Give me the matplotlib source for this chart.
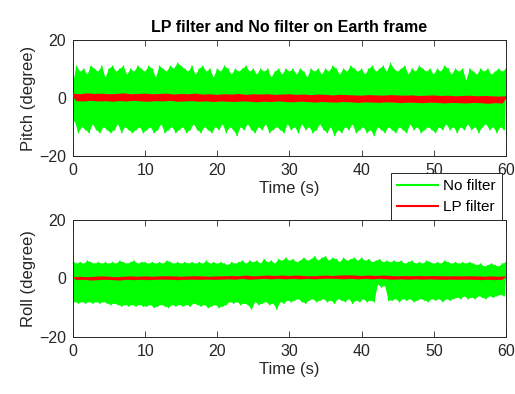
import numpy as np
import matplotlib
matplotlib.use('Agg')
import matplotlib.pyplot as plt

## DATA
# unfiltered signals: upper edge every 0.5 s from 0, lower edge every 0.5 s from 0.25
pitch_raw_hi = [5, 11, 9, 10, 8, 11, 10, 9, 11, 7,
                10, 11, 9, 10, 11, 8, 10, 9, 11, 10,
                9, 11, 10, 7, 11, 10, 9, 11, 10, 12,
                11, 10, 9, 11, 8, 10, 11, 9, 10, 7,
                10, 9, 11, 10, 8, 10, 9, 10, 11, 9,
                10, 8, 10, 9, 10, 7, 9, 10, 8, 10,
                9, 10, 8, 10, 9, 7, 10, 9, 10, 8,
                10, 9, 11, 10, 8, 10, 9, 11, 10, 9,
                10, 8, 10, 11, 9, 10, 11, 9, 12, 10,
                9, 10, 11, 8, 10, 9, 11, 10, 9, 10,
                8, 10, 9, 11, 10, 8, 10, 9, 10, 6,
                10, 9, 8, 10, 9, 10, 8, 9, 10, 9,
                10]
pitch_raw_lo = [-8, -12, -10, -11, -12, -9, -11, -12, -10, -11,
                -12, -11, -9, -12, -10, -11, -12, -11, -10, -12,
                -11, -10, -12, -11, -9, -12, -11, -10, -12, -11,
                -10, -12, -11, -9, -11, -12, -10, -11, -12, -10,
                -11, -9, -12, -10, -11, -13, -10, -11, -9, -11,
                -12, -10, -11, -9, -12, -11, -10, -11, -12, -9,
                -11, -10, -12, -9, -11, -10, -12, -11, -9, -11,
                -12, -10, -13, -11, -12, -10, -11, -9, -12, -11,
                -10, -12, -11, -13, -10, -11, -12, -10, -11, -12,
                -10, -11, -12, -9, -11, -10, -12, -11, -10, -11,
                -12, -10, -11, -9, -11, -10, -12, -10, -11, -9,
                -11, -10, -12, -10, -9, -11, -10, -12, -10, -11]
roll_raw_hi = [6, 5, 5.5, 5, 6, 5.5, 5, 5.5, 5, 5.5,
               5, 5.5, 5, 6, 5.5, 5, 5.5, 6, 5, 5.5,
               5.5, 5, 5.5, 5, 5.5, 5, 6, 5.5, 5, 5.5,
               5, 5.5, 5, 5.5, 5, 5.5, 5, 6, 5, 5.5,
               5, 5.5, 5, 4.5, 5.5, 5, 5.5, 6, 5, 6,
               5.5, 6, 5, 6.5, 5.5, 6, 5, 6.5, 6, 7,
               6, 6.5, 5.5, 6, 7, 6, 6.5, 7.5, 6, 7,
               7.5, 6, 7, 6.5, 5.5, 7, 6, 6.5, 7, 6,
               7, 6, 6.5, 5.5, 6, 6.5, 5.5, 6, 5.5, 6,
               5.5, 6, 5, 5.5, 6, 5, 5.5, 5, 6, 5.5,
               5, 5.5, 5, 6, 5.5, 5, 5.5, 5, 5.5, 5,
               5.5, 5, 4.5, 5, 4, 4.5, 5, 4.5, 4, 5,
               5.5]
roll_raw_lo = [-8, -8.5, -8, -8.5, -8, -8.5, -8, -8.5, -8, -8.5,
               -9, -8.5, -9, -9.5, -9, -9.5, -9, -9.5, -9, -9.5,
               -9.5, -9, -10, -9.5, -9, -9.5, -10, -9, -9.5, -9,
               -9.5, -9, -9.5, -8.5, -9, -9.5, -9, -10, -9.5, -9,
               -10, -9.5, -9, -8, -8.5, -8, -9, -8.5, -9, -10.5,
               -8, -9, -8.5, -8, -9, -8.5, -10.5, -8, -8.5, -7.5,
               -8, -7.5, -7, -8, -8.5, -7.5, -7, -8, -7.5, -7,
               -8, -7.5, -8.5, -7, -7.5, -8, -7, -8.5, -7.5, -8,
               -7, -8, -7.5, -8, -2, -3, -2.5, -7.5, -7.5, -7,
               -8, -7, -7.5, -7, -8, -7.5, -7, -7.5, -8, -7,
               -7.5, -7, -8, -7, -7.5, -7, -6.5, -7, -6, -7,
               -6.5, -7, -6, -6.5, -7, -6, -6.5, -6, -5.5, -6]

# low-pass filtered signals: upper edge on whole seconds, lower edge half a second later
pitch_lp_hi = [1.2, 1.0, 1.3, 1.1, 1.2, 1.0, 1.1, 1.3, 1.0, 1.1, 1.2, 1.0, 1.1, 1.2, 0.9,
               1.1, 1.0, 1.2, 0.9, 1.0, 0.8, 1.0, 0.9, 1.1, 0.8, 1.0, 0.9, 1.0, 0.8, 0.9,
               1.0, 0.8, 0.9, 0.7, 0.9, 0.8, 0.6, 0.8, 0.7, 0.6, 0.5, 0.7, 0.6, 0.5, 0.7,
               0.6, 0.5, 0.6, 0.4, 0.5, 0.6, 0.4, 0.5, 0.3, 0.4, 0.5, 0.3, 0.4, 0.3, 0.2, 0.3]
pitch_lp_lo = [-0.8, -0.9, -0.7, -0.9, -0.8, -1.0, -0.8, -0.9, -0.7, -0.9, -1.0, -0.8,
               -0.9, -0.7, -1.0, -0.9, -0.8, -1.0, -0.9, -1.1, -0.9, -1.0, -1.1, -0.9,
               -1.0, -1.2, -1.0, -1.1, -0.9, -1.1, -1.2, -1.0, -1.1, -1.3, -1.1, -1.2,
               -1.3, -1.1, -1.2, -1.4, -1.2, -1.3, -1.4, -1.2, -1.3, -1.5, -1.3, -1.4,
               -1.5, -1.3, -1.4, -1.6, -1.4, -1.5, -1.6, -1.4, -1.5, -1.7, -1.5, -1.6]
roll_lp_hi = [0.4, 0.5, 0.4, 0.5, 0.6, 0.5, 0.4, 0.5, 0.6, 0.5, 0.6, 0.5, 0.6, 0.7, 0.6,
              0.5, 0.6, 0.7, 0.6, 0.5, 0.6, 0.7, 0.8, 0.7, 0.9, 0.7, 0.8, 0.9, 0.8, 0.9,
              0.8, 0.9, 0.8, 0.7, 0.8, 0.9, 0.8, 0.9, 1.0, 0.9, 0.8, 0.9, 0.8, 0.9, 0.8,
              0.7, 0.8, 0.7, 0.8, 0.7, 0.8, 0.7, 0.6, 0.7, 0.6, 0.7, 0.6, 0.5, 0.6, 0.5, 0.6]
roll_lp_lo = [-0.5, -0.4, -0.6, -0.5, -0.4, -0.5, -0.6, -0.4, -0.5, -0.4, -0.5, -0.4,
              -0.3, -0.4, -0.5, -0.4, -0.3, -0.4, -0.3, -0.4, -0.3, -0.2, -0.3, -0.1,
              -0.3, -0.2, -0.1, -0.2, -0.1, -0.2, -0.1, -0.2, -0.1, -0.2, -0.1, 0.0,
              -0.1, -0.2, -0.1, -0.2, -0.1, -0.2, -0.1, -0.2, -0.3, -0.2, -0.3, -0.2,
              -0.3, -0.2, -0.3, -0.4, -0.3, -0.4, -0.3, -0.4, -0.5, -0.4, -0.5, -0.4]

xticks = [0, 10, 20, 30, 40, 50, 60]
yticks = [-20, 0, 20]
legend_labels = ['No filter', 'LP filter']

GREEN = '#00ff00'
RED = '#ff0000'
DARK = '#262626'


def merge(hi, lo, step):
    # hi on multiples of step, lo half a step later
    th = np.arange(len(hi)) * step
    tl = np.arange(len(lo)) * step + step / 2
    t = np.concatenate([th, tl])
    v = np.concatenate([hi, lo])
    order = np.argsort(t)
    return th, tl, t[order], v[order]


def band(ax, hi, lo, step, color, lw, zigzag=True, z=2):
    # solid body: outline runs through the peaks, then back through the troughs
    th, tl, t, v = merge(hi, lo, step)
    xs = np.concatenate([th, tl[::-1]])
    ys = np.concatenate([hi, lo[::-1]])
    ax.fill(xs, ys, facecolor=color, edgecolor=color,
            lw=0 if zigzag else lw, zorder=z)
    if zigzag:
        ax.plot(t, v, color=color, lw=lw, zorder=z)


def style_axes(ax):
    ax.set_xlim(0, 60)
    ax.set_ylim(-20, 20)
    ax.set_xticks(xticks)
    ax.set_yticks(yticks)
    ax.tick_params(direction='in', top=True, right=True, length=4,
                   width=0.6, colors=DARK, labelsize=11.5, pad=5)
    for sp in ax.spines.values():
        sp.set_color(DARK)
        sp.set_linewidth(0.7)
    ax.set_xlabel('Time (s)', fontsize=12, color=DARK, labelpad=2)


def main():
    plt.rcParams['font.family'] = ['Liberation Sans', 'DejaVu Sans']
    fig = plt.figure(figsize=(5.15, 3.94), dpi=100)

    ax1 = fig.add_axes([0.1417, 0.6041, 0.8408, 0.2944])
    band(ax1, pitch_raw_hi, pitch_raw_lo, 0.5, GREEN, 1.0, z=2)
    band(ax1, pitch_lp_hi, pitch_lp_lo, 1.0, RED, 1.2, zigzag=False, z=3)
    style_axes(ax1)
    ax1.set_ylabel('Pitch (degree)', fontsize=12, color=DARK, labelpad=2)
    ax1.set_title('LP filter and No filter on Earth frame', fontsize=11.5,
                  fontweight='bold', pad=6)

    ax2 = fig.add_axes([0.1417, 0.1447, 0.8408, 0.297])
    band(ax2, roll_raw_hi, roll_raw_lo, 0.5, GREEN, 1.0, z=2)
    band(ax2, roll_lp_hi, roll_lp_lo, 1.0, RED, 0.3, zigzag=False, z=3)
    style_axes(ax2)
    ax2.set_ylabel('Roll (degree)', fontsize=12, color=DARK, labelpad=2)

    # legend keys: empty lines in the series colours
    h1, = ax1.plot([], [], color=GREEN, lw=1.5)
    h2, = ax1.plot([], [], color=RED, lw=1.5)
    leg = fig.legend([h1, h2], legend_labels, loc='lower left',
                     bbox_to_anchor=(0.759, 0.4416), borderaxespad=0,
                     fontsize=11, fancybox=False, framealpha=1,
                     edgecolor=DARK, handlelength=2.7, handletextpad=0.3,
                     borderpad=0.4, labelspacing=0.45)
    leg.get_frame().set_linewidth(0.7)
    leg.set_zorder(10)

    fig.savefig('out.png', dpi=100)


if __name__ == '__main__':
    main()
